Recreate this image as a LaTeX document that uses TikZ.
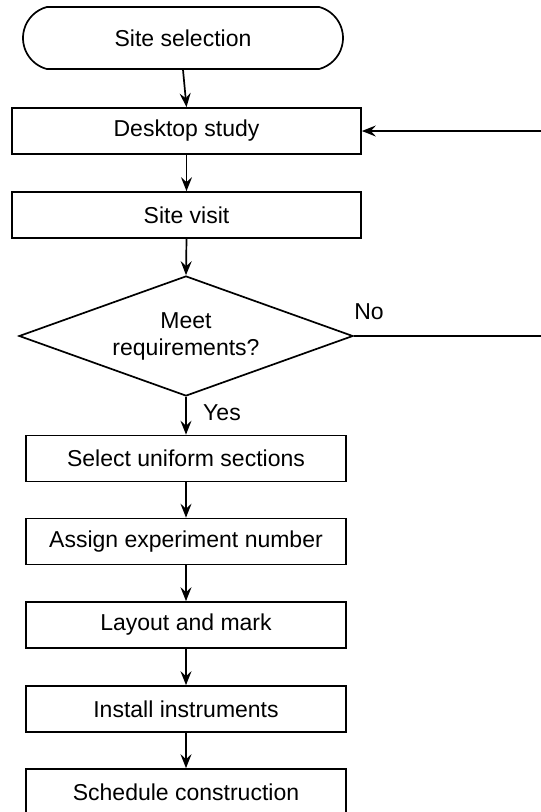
\documentclass[tikz,border=0pt]{standalone}
\usepackage{fontspec}
\setmainfont{Liberation Sans}
\usetikzlibrary{shapes.geometric,shapes.misc,arrows.meta}

\tikzset{
  stepbox/.style = {draw, rectangle, minimum width=320pt, minimum height=46pt, inner sep=0pt},
  widebox/.style = {stepbox, minimum width=349pt},
  flow/.style = {-{Stealth[length=14pt,width=11pt,inset=5pt]}}
}

\begin{document}
\begin{tikzpicture}[x=1pt, y=-1pt, line width=1.7pt, font = \fontsize{23}{27}\selectfont]
        \useasboundingbox (0,0) rectangle (541,812);
        \clip (0,0) rectangle (541,812);

        \node[draw, rounded rectangle, rounded rectangle arc length=150, minimum width=320pt, minimum height=62pt, inner sep=0pt] (start) at (183,38) {Site selection};
        \node[widebox] (desk) at (186.5,131) {Desktop study};
        \node[widebox] (visit) at (186.5,215) {Site visit};
        \node[draw, diamond, aspect=2.78, minimum width=334pt, minimum height=120pt, inner sep=0pt, align=center] (dec) at (186,336) {Meet\\requirements?};
        \node[stepbox] (sel) at (186,458.5) {Select uniform sections};
        \node[stepbox] (assign) at (186,541.5) {Assign experiment number};
        \node[stepbox] (layout) at (186,625) {Layout and mark};
        \node[stepbox] (inst) at (186,709) {Install instruments};
        \node[stepbox] (sched) at (186,792) {Schedule construction};

        \node (lblno) at (369,312) {No};
        \node (lblyes) at (222,412.5) {Yes};

        \draw[flow] (start.south) -- (desk.north);
        \draw[flow] (desk.south) -- (visit.north);
        \draw[flow] (visit.south) -- (dec.north);
        \draw[flow] (dec.south) -- (sel.north);
        \draw[flow] (sel.south) -- (assign.north);
        \draw[flow] (assign.south) -- (layout.north);
        \draw[flow] (layout.south) -- (inst.north);
        \draw[flow] (inst.south) -- (sched.north);

        % loop back, runs out past the right edge
        \draw[flow] (dec.east) -- (570,336) |- (desk.east);
\end{tikzpicture}
\end{document}
